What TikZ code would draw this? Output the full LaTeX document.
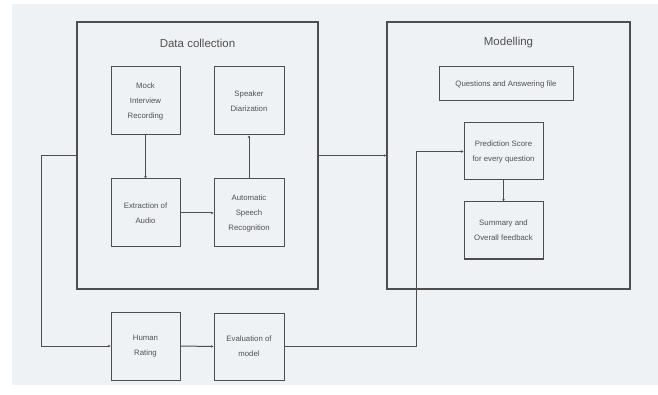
\documentclass[tikz,border=0pt]{standalone}
\usepackage{fontspec}
\setmainfont{Liberation Sans}
\usetikzlibrary{arrows.meta,calc}
\definecolor{panel}{HTML}{EFF2F5}
\definecolor{linec}{HTML}{4E4E4E}
\definecolor{textc}{HTML}{505050}
\tikzset{
  box/.style={draw=linec, line width=1pt, rectangle, inner sep=0pt, align=center,
    text=textc, font=\fontsize{7.8}{15}\selectfont},
  group/.style={draw=linec, line width=1.1pt, rectangle, inner sep=0pt},
  title/.style={text=textc, font=\fontsize{11.5}{13}\selectfont, inner sep=0pt},
  conn/.style={draw=linec, line width=1pt, -{Stealth[length=2.5pt,width=2.5pt]}},
}
\begin{document}
\begin{tikzpicture}[x=1pt,y=-1pt]
\useasboundingbox (0,0) rectangle (658,395);
\fill[white] (0,0) rectangle (658,395);
\fill[panel] (12,4) rectangle (658,385);

% group boxes
\node[group, minimum width=241pt, minimum height=267pt] (dc) at (197.5,155.5) {};
\node[group, minimum width=243pt, minimum height=267pt] (mod) at (508.5,155.5) {};
\node[title] (dctitle) at (197.5,43) {Data collection};
\node[title] (modtitle) at (508.5,43) {Modelling};

% data collection boxes
\node[box, minimum width=69pt, minimum height=68pt] (mock) at (145.5,101) {Mock\\Interview\\Recording};
\node[box, minimum width=70pt, minimum height=68pt] (spk) at (249,101) {Speaker\\Diarization};
\node[box, minimum width=69pt, minimum height=68pt] (ext) at (145.5,213) {Extraction of\\Audio};
\node[box, minimum width=70pt, minimum height=68pt] (asr) at (249,213) {Automatic\\Speech\\Recognition};

% modelling boxes
\node[box, minimum width=134pt, minimum height=34pt] (qa) at (506,84) {Questions and Answering file};
\node[box, minimum width=79pt, minimum height=57pt] (pred) at (503.5,151.5) {Prediction Score\\for every question};
\node[box, minimum width=79pt, minimum height=57pt] (sum) at (503.5,230.5) {Summary and\\Overall feedback};

% bottom boxes
\node[box, minimum width=69pt, minimum height=68pt] (hum) at (145.5,346) {Human\\Rating};
\node[box, minimum width=70pt, minimum height=67pt] (eval) at (249,346.5) {Evaluation of\\model};

% connectors
\draw[conn] (mock.south) -- (ext.north);
\draw[conn] (ext.east) -- (asr.west);
\draw[conn] (asr.north) -- (spk.south);
\draw[conn] (dc.east) -- (mod.west);
\draw[conn] (pred.south) -- (sum.north);
\draw[conn] (dc.west) -- ++(-35,0) |- (hum.west);
\draw[conn] (hum.east) -- (eval.west);
\draw[conn] (eval.east) -| ([xshift=-47pt]pred.west) -- (pred.west);
\end{tikzpicture}
\end{document}
